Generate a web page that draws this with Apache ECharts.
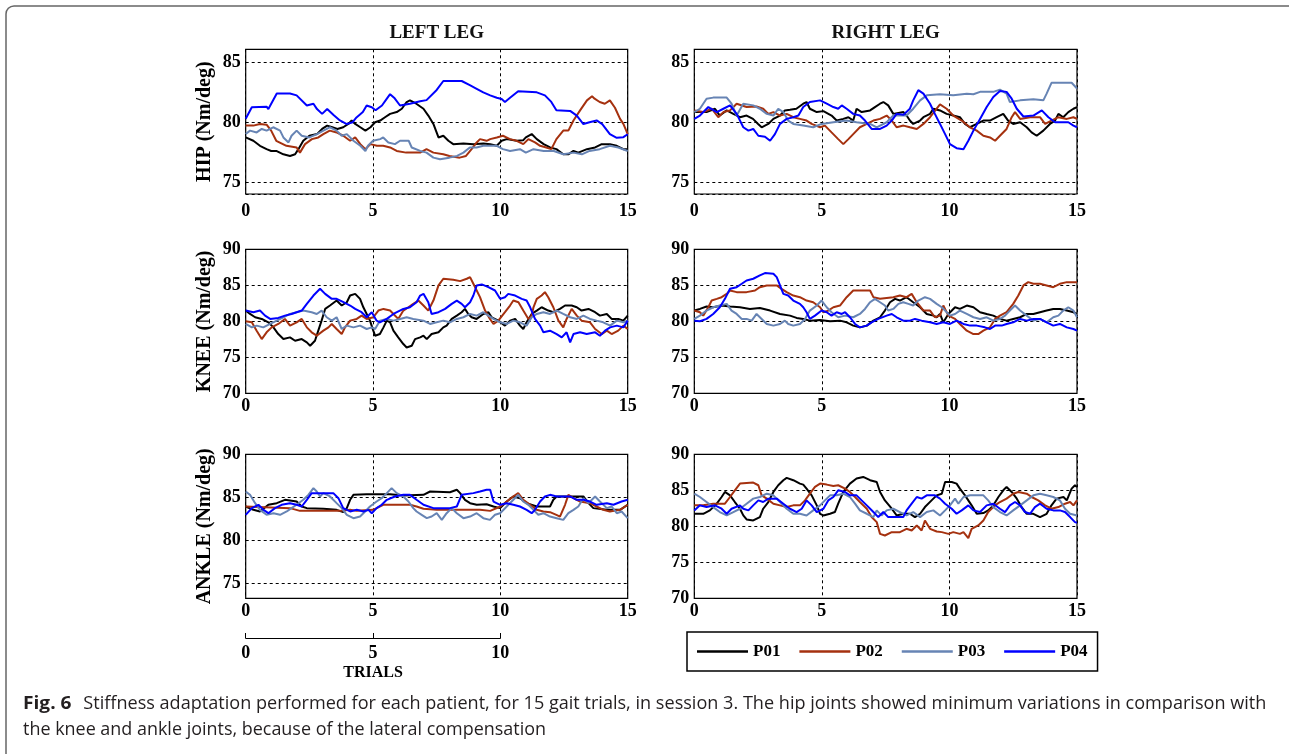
<!DOCTYPE html>
<html>
<head>
<meta charset="utf-8">
<script src="https://cdn.jsdelivr.net/npm/echarts@6/dist/echarts.min.js"></script>
<style>
html,body{margin:0;padding:0;background:#fff;}
#chart{width:1289px;height:754px;}
</style>
</head>
<body>
<div id="chart"></div>
<script>
// ---- series names / tick labels ----
const patients = ['P01', 'P02', 'P03', 'P04'];
const panelTitles = ['LEFT LEG', 'RIGHT LEG'];
const jointNames = ['HIP (Nm/deg)', 'KNEE (Nm/deg)', 'ANKLE (Nm/deg)'];
const trialTicks = [0, 5, 10, 15];
const captionBold = 'Fig. 6';
const captionLine1 = 'Stiffness adaptation performed for each patient, for 15 gait trials, in session 3. The hip joints showed minimum variations in comparison with';
const captionLine2 = 'the knee and ankle joints, because of the lateral compensation';

// ---- HIP, left leg ----
const hipL_P01 = [[0,78.73],[0.3,78.45],[0.56,78.03],[0.82,77.75],[1.0,77.6],[1.2,77.6],[1.48,77.32],[1.74,77.18],[1.94,77.32],[2.07,77.75],[2.26,78.45],[2.5,78.87],[2.8,79.01],[3.0,79.44],[3.2,79.72],[3.4,79.58],[3.6,79.44],[3.83,79.58],[4.03,79.86],[4.16,80.14],[4.3,79.86],[4.5,79.58],[4.7,79.3],[4.9,79.58],[5.08,80.0],[5.28,80.14],[5.47,80.42],[5.67,80.7],[5.93,80.85],[6.13,81.13],[6.32,81.69],[6.45,81.83],[6.7,81.55],[6.98,81.13],[7.17,80.56],[7.37,79.86],[7.57,78.73],[7.76,78.87],[7.96,78.45],[8.15,78.17],[8.55,78.23],[8.94,78.17],[9.33,78.23],[9.6,78.17],[9.86,78.03],[10.05,78.45],[10.25,78.59],[10.64,78.45],[10.9,78.5],[11.0,78.73],[11.23,79.01],[11.43,78.59],[11.7,78.17],[11.95,77.89],[12.2,77.75],[12.47,77.32],[12.67,77.32],[12.87,77.6],[13.06,77.46],[13.4,77.75],[13.72,77.89],[13.98,78.17],[14.3,78.17],[14.57,78.03],[14.83,77.75],[15,77.75]];
const hipL_P02 = [[0,79.72],[0.3,79.72],[0.56,79.86],[0.82,79.8],[1.0,79.3],[1.2,78.45],[1.6,78.03],[2.0,77.89],[2.13,77.46],[2.2,77.32],[2.33,78.17],[2.6,78.59],[2.85,78.73],[3.05,79.01],[3.3,79.3],[3.57,79.15],[3.83,78.87],[4.1,78.45],[4.3,78.73],[4.5,78.17],[4.7,77.75],[4.9,78.17],[5.15,78.03],[5.4,78.03],[5.67,77.89],[5.93,77.6],[6.3,77.46],[6.85,77.46],[7.1,77.75],[7.37,77.46],[7.76,77.32],[8.0,77.18],[8.4,77.04],[8.65,77.18],[8.87,77.75],[9.07,78.31],[9.2,78.59],[9.46,78.45],[9.6,78.59],[9.86,78.73],[10.1,78.87],[10.38,78.59],[10.64,78.45],[10.9,78.17],[11.1,78.59],[11.36,78.31],[11.56,78.03],[11.8,77.89],[12.0,77.75],[12.2,78.59],[12.47,79.3],[12.67,79.3],[12.87,80.14],[13.13,80.99],[13.4,81.83],[13.6,82.17],[13.7,81.97],[13.9,81.69],[14.1,81.55],[14.3,81.83],[14.5,81.21],[14.7,80.28],[14.83,79.86],[15,79.01]];
const hipL_P03 = [[0,79.01],[0.17,79.3],[0.43,79.15],[0.63,79.44],[0.82,79.3],[1.08,79.58],[1.35,79.3],[1.48,78.73],[1.68,78.31],[1.8,78.87],[2.0,79.3],[2.2,78.87],[2.5,78.73],[2.8,79.01],[3.05,79.3],[3.3,79.58],[3.57,79.3],[3.77,78.87],[3.97,79.01],[4.23,78.45],[4.5,78.03],[4.7,77.6],[4.8,78.03],[5.0,78.45],[5.28,78.59],[5.4,78.73],[5.6,78.31],[5.86,78.17],[6.06,78.45],[6.4,78.45],[6.52,77.89],[6.85,77.6],[7.1,77.46],[7.37,77.04],[7.63,76.9],[8.0,77.04],[8.3,77.18],[8.55,77.46],[8.8,77.89],[9.07,77.89],[9.33,78.03],[9.86,78.03],[10.1,77.75],[10.38,77.6],[10.77,77.75],[11.0,77.46],[11.3,77.75],[11.7,77.6],[12.1,77.6],[12.47,77.32],[12.87,77.46],[13.2,77.32],[13.5,77.6],[13.9,77.75],[14.3,78.03],[14.63,77.89],[15,77.6]];
const hipL_P04 = [[0,80.3],[0.24,81.25],[0.82,81.3],[0.89,81.1],[1.22,82.4],[1.74,82.4],[2.0,82.25],[2.4,81.4],[2.66,81.55],[2.8,81.1],[3.0,80.7],[3.2,81.1],[3.45,80.6],[3.7,80.15],[3.97,79.85],[4.2,80.0],[4.35,80.4],[4.6,80.85],[4.75,81.4],[4.95,81.25],[5.1,81.0],[5.35,81.4],[5.55,82.0],[5.67,82.35],[5.85,82.0],[6.06,81.4],[6.45,81.55],[6.85,81.75],[7.1,81.85],[7.5,82.7],[7.76,83.45],[8.48,83.45],[8.8,83.1],[9.07,82.8],[9.33,82.5],[9.6,82.25],[9.86,82.05],[10.05,81.95],[10.18,81.7],[10.38,82.05],[10.7,82.6],[11.43,82.5],[11.75,82.25],[12.0,81.7],[12.2,81.0],[12.74,80.95],[13.0,80.55],[13.26,79.85],[13.5,80.0],[13.78,80.15],[14.0,79.85],[14.3,79.0],[14.57,78.7],[14.83,78.75],[15,79.0]];

// ---- HIP, right leg ----
const hipR_P01 = [[0,80.85],[0.48,80.85],[0.81,81.13],[1.0,80.56],[1.27,80.99],[1.53,80.7],[1.79,80.42],[2.05,80.56],[2.3,80.28],[2.5,79.86],[2.64,79.58],[2.9,79.86],[3.1,80.28],[3.36,80.56],[3.55,80.99],[3.75,81.04],[4.0,81.13],[4.27,81.55],[4.4,81.69],[4.53,81.13],[4.8,80.85],[5.06,80.93],[5.38,80.56],[5.58,80.14],[5.84,80.28],[6.04,80.42],[6.23,80.14],[6.36,81.13],[6.56,80.85],[6.89,80.99],[7.08,81.27],[7.28,81.55],[7.41,81.69],[7.6,81.41],[7.8,80.7],[8.2,80.85],[8.32,80.56],[8.45,80.14],[8.58,79.86],[8.85,80.14],[8.98,80.42],[9.24,80.7],[9.37,81.13],[9.63,80.99],[9.89,80.7],[10.15,80.56],[10.41,80.42],[10.61,79.86],[10.8,79.58],[11.07,79.86],[11.33,80.14],[11.59,80.14],[11.85,80.42],[12.11,80.7],[12.3,80.14],[12.5,79.86],[12.77,80.0],[13.03,79.58],[13.22,79.15],[13.42,78.87],[13.68,79.3],[13.94,79.86],[14.14,80.14],[14.27,80.7],[14.46,80.42],[14.66,80.85],[14.86,81.13],[15,81.27]];
const hipR_P02 = [[0,80.99],[0.35,80.85],[0.68,81.13],[0.94,80.42],[1.14,80.85],[1.4,80.99],[1.66,81.55],[2.05,81.27],[2.44,81.32],[2.7,81.13],[2.9,80.7],[3.1,80.85],[3.36,80.56],[3.62,80.7],[3.88,80.42],[4.14,80.28],[4.4,80.14],[4.6,79.86],[4.93,79.58],[5.12,79.72],[5.38,79.15],[5.64,78.59],[5.84,78.17],[6.04,78.59],[6.23,79.01],[6.49,79.58],[6.76,79.86],[7.02,80.14],[7.28,80.28],[7.54,80.56],[7.74,80.14],[7.93,79.58],[8.2,79.72],[8.45,79.58],[8.72,79.44],[8.98,79.86],[9.24,80.42],[9.5,81.13],[9.63,81.49],[9.89,81.13],[10.15,80.56],[10.48,80.14],[10.8,79.58],[11.07,79.3],[11.33,78.87],[11.59,78.73],[11.79,78.45],[11.98,78.87],[12.24,79.44],[12.44,80.42],[12.57,80.85],[12.77,80.28],[13.16,80.42],[13.55,80.42],[13.75,79.86],[14.0,80.14],[14.27,80.42],[14.6,80.28],[14.86,80.42],[15,80.28]];
const hipR_P03 = [[0,80.85],[0.22,81.13],[0.48,81.97],[0.74,82.06],[1.27,82.06],[1.46,81.55],[1.66,80.56],[1.92,81.55],[2.31,81.41],[2.57,81.13],[2.84,80.7],[3.1,80.56],[3.29,81.13],[3.49,80.85],[3.68,80.14],[3.88,79.86],[4.27,79.72],[4.66,79.58],[4.99,79.86],[5.45,80.0],[5.97,80.14],[6.36,80.0],[6.89,79.86],[7.15,79.58],[7.54,80.0],[7.8,80.56],[8.32,80.56],[8.58,81.13],[8.85,81.83],[9.11,82.25],[9.63,82.34],[10.15,82.25],[10.68,82.39],[10.94,82.34],[11.2,82.54],[11.72,82.54],[11.98,82.73],[12.24,82.39],[12.37,81.69],[12.77,81.83],[13.29,81.92],[13.68,81.83],[13.81,82.39],[14.0,83.3],[14.79,83.3],[15,82.82]];
const hipR_P04 = [[0,80.28],[0.22,80.56],[0.55,81.27],[0.88,80.85],[1.14,81.13],[1.4,81.41],[1.66,80.7],[1.92,79.58],[2.12,79.3],[2.31,79.44],[2.51,78.87],[2.77,78.79],[2.97,78.45],[3.16,79.01],[3.36,79.86],[3.62,80.28],[3.88,80.42],[4.08,80.56],[4.27,81.27],[4.53,81.69],[4.93,81.83],[5.19,81.55],[5.45,81.27],[5.64,81.13],[5.78,81.41],[5.97,81.13],[6.23,80.7],[6.49,80.56],[6.69,80.14],[6.95,79.44],[7.28,79.44],[7.54,79.72],[7.74,80.14],[7.93,80.7],[8.2,80.62],[8.45,81.13],[8.58,81.83],[8.78,82.68],[8.98,82.39],[9.24,81.55],[9.43,80.7],[9.63,79.86],[9.83,79.01],[10.02,78.17],[10.28,77.83],[10.55,77.75],[10.74,78.45],[10.94,79.3],[11.2,80.28],[11.46,81.27],[11.72,82.11],[11.98,82.62],[12.24,82.54],[12.44,81.97],[12.64,81.13],[12.9,80.48],[13.29,80.56],[13.62,80.99],[13.88,80.42],[14.14,80.0],[14.66,80.0],[14.86,79.72],[15,79.58]];

// ---- KNEE, left leg ----
const kneeL_P01 = [[0,81.49],[0.17,81.02],[0.37,80.56],[0.63,80.33],[0.89,79.86],[1.09,79.16],[1.28,78.23],[1.48,77.53],[1.74,77.77],[1.94,77.3],[2.2,77.53],[2.4,77.07],[2.53,76.6],[2.72,77.3],[2.85,78.7],[2.98,80.09],[3.12,81.72],[3.31,82.19],[3.57,82.88],[3.77,82.19],[3.97,82.65],[4.1,83.58],[4.3,83.81],[4.49,83.12],[4.62,81.95],[4.75,81.02],[4.88,80.09],[5.01,78.7],[5.08,78.0],[5.27,78.23],[5.41,79.16],[5.54,80.09],[5.67,79.86],[5.8,78.7],[5.99,77.77],[6.19,76.84],[6.32,76.37],[6.52,76.6],[6.65,77.53],[6.85,77.77],[6.98,78.0],[7.11,77.53],[7.3,78.23],[7.57,78.47],[7.76,79.16],[7.89,79.4],[8.09,80.33],[8.29,80.79],[8.48,81.26],[8.61,81.72],[8.74,81.02],[8.87,80.56],[9.07,80.33],[9.33,81.02],[9.53,81.26],[9.66,80.56],[9.92,80.09],[10.18,79.4],[10.38,80.09],[10.58,80.33],[10.77,79.4],[10.9,78.93],[11.03,79.86],[11.23,81.02],[11.43,81.49],[11.62,81.95],[11.88,81.49],[12.08,81.26],[12.34,81.72],[12.54,82.19],[12.8,82.19],[13.0,81.95],[13.19,81.49],[13.46,81.72],[13.72,81.26],[13.91,80.79],[14.18,81.02],[14.37,80.33],[14.63,80.33],[14.83,80.09],[15,80.79]];
const kneeL_P02 = [[0,80.0],[0.24,79.86],[0.43,78.7],[0.63,77.53],[0.82,78.47],[1.02,79.16],[1.28,79.63],[1.54,80.33],[1.74,79.4],[2.0,79.86],[2.2,80.33],[2.4,79.16],[2.59,78.47],[2.79,78.0],[3.05,78.7],[3.25,79.16],[3.38,79.63],[3.57,78.93],[3.77,78.23],[3.9,79.16],[4.1,80.09],[4.36,80.33],[4.55,80.79],[4.75,80.33],[5.01,80.56],[5.21,81.49],[5.41,81.72],[5.67,81.49],[5.8,81.02],[5.99,80.33],[6.19,81.49],[6.39,81.95],[6.58,82.42],[6.78,82.88],[6.98,82.19],[7.17,81.49],[7.37,82.88],[7.57,84.98],[7.76,85.91],[8.15,85.77],[8.42,85.58],[8.68,85.91],[8.81,86.14],[8.94,85.21],[9.2,83.35],[9.4,81.49],[9.59,80.33],[9.73,79.63],[9.92,80.09],[10.18,81.26],[10.38,82.19],[10.51,82.88],[10.71,82.65],[10.9,81.49],[11.1,80.33],[11.23,80.79],[11.3,81.95],[11.43,83.12],[11.62,83.58],[11.75,84.05],[11.88,83.35],[12.08,81.95],[12.28,80.09],[12.47,79.16],[12.6,80.33],[12.8,81.72],[13.0,80.79],[13.19,80.09],[13.52,79.86],[13.72,78.93],[13.98,78.23],[14.18,78.7],[14.37,78.23],[14.63,78.7],[14.83,79.4],[15,78.93]];
const kneeL_P03 = [[0,79.63],[0.24,79.16],[0.43,79.4],[0.69,79.16],[0.96,79.63],[1.22,80.09],[1.48,80.56],[1.74,81.02],[2.0,81.26],[2.26,81.49],[2.59,81.26],[2.79,81.02],[2.98,81.49],[3.18,80.56],[3.38,80.09],[3.57,80.56],[3.77,78.93],[3.97,79.4],[4.23,79.16],[4.49,79.4],[4.75,78.93],[4.95,79.16],[5.08,78.93],[5.27,80.09],[5.54,80.33],[5.8,80.09],[6.06,80.33],[6.32,80.56],[6.58,80.33],[6.98,80.09],[7.24,79.63],[7.5,79.86],[7.76,80.09],[8.02,79.86],[8.29,80.33],[8.55,80.56],[8.81,81.02],[9.07,80.79],[9.33,81.26],[9.53,80.79],[9.73,80.33],[9.99,79.86],[10.25,79.63],[10.51,80.09],[10.77,79.86],[11.03,79.4],[11.23,80.56],[11.43,81.02],[11.69,81.26],[11.95,81.02],[12.21,81.49],[12.47,81.02],[12.74,80.56],[13.0,80.33],[13.26,80.79],[13.52,80.33],[13.78,80.09],[14.04,79.86],[14.31,79.4],[14.57,80.09],[14.83,79.86],[15,80.09]];
const kneeL_P04 = [[0,81.49],[0.3,81.26],[0.56,81.49],[0.76,80.79],[0.96,80.33],[1.28,80.47],[1.54,80.79],[1.8,81.02],[2.0,81.26],[2.2,81.49],[2.4,82.42],[2.66,83.58],[2.92,84.51],[3.12,83.81],[3.38,83.12],[3.57,83.12],[3.84,82.65],[4.1,82.19],[4.3,81.72],[4.55,81.26],[4.75,80.56],[4.95,81.26],[5.14,80.09],[5.27,79.86],[5.54,80.33],[5.8,81.02],[6.19,81.72],[6.45,81.95],[6.71,82.65],[6.85,83.58],[6.98,83.81],[7.17,82.65],[7.3,81.02],[7.57,81.26],[7.83,81.72],[8.09,82.42],[8.29,82.88],[8.48,82.42],[8.61,81.95],[8.81,82.65],[8.94,83.58],[9.07,84.98],[9.27,85.12],[9.53,84.74],[9.79,84.28],[9.99,83.12],[10.18,83.35],[10.31,83.81],[10.58,83.58],[10.84,83.12],[11.03,82.88],[11.17,81.95],[11.36,80.33],[11.56,79.4],[11.69,78.47],[11.95,78.7],[12.21,78.23],[12.41,77.77],[12.6,78.47],[12.74,77.07],[12.87,78.23],[13.13,78.47],[13.39,78.23],[13.72,78.47],[13.91,78.0],[14.11,78.7],[14.31,79.16],[14.57,79.4],[14.83,79.16],[15,80.09]];

// ---- KNEE, right leg ----
const kneeR_P01 = [[0,81.49],[0.22,81.72],[0.48,82.05],[0.74,81.95],[1.07,82.19],[1.4,82.05],[1.79,81.95],[2.18,81.72],[2.57,81.86],[2.97,81.49],[3.36,81.02],[3.75,80.79],[4.01,80.47],[4.27,80.33],[4.53,80.09],[4.93,80.19],[5.32,80.0],[5.71,80.09],[5.97,79.86],[6.23,79.4],[6.49,79.16],[6.76,79.4],[7.02,80.09],[7.28,80.56],[7.47,81.49],[7.67,82.65],[7.87,83.12],[8.06,82.88],[8.32,83.35],[8.58,82.65],[8.85,81.95],[9.11,81.02],[9.37,80.79],[9.5,80.56],[9.63,81.02],[9.76,79.86],[9.96,81.02],[10.22,81.95],[10.41,81.72],[10.68,82.19],[10.94,81.95],[11.2,81.26],[11.46,81.02],[11.72,80.79],[11.98,80.33],[12.24,80.09],[12.5,80.33],[12.77,80.56],[13.03,81.02],[13.29,81.02],[13.55,81.26],[13.81,81.49],[14.07,81.72],[14.33,81.72],[14.6,81.49],[14.86,81.26],[15,81.02]];
const kneeR_P02 = [[0,81.49],[0.22,81.26],[0.35,80.79],[0.55,81.95],[0.68,82.88],[0.88,83.12],[1.07,83.35],[1.27,83.81],[1.4,84.28],[1.66,84.05],[2.05,84.05],[2.38,84.28],[2.57,84.74],[2.84,84.98],[3.23,84.98],[3.42,84.51],[3.62,84.05],[3.88,83.58],[4.14,83.35],[4.4,82.88],[4.66,82.65],[4.93,81.95],[5.06,81.26],[5.25,81.49],[5.45,81.95],[5.71,82.19],[5.97,83.35],[6.23,84.28],[6.89,84.28],[7.02,83.35],[7.28,83.12],[7.8,83.35],[8.06,83.58],[8.32,83.35],[8.52,83.81],[8.72,82.65],[8.98,81.49],[9.24,81.49],[9.43,80.56],[9.63,80.79],[9.76,82.19],[9.96,80.79],[10.22,80.33],[10.41,79.63],[10.68,78.7],[10.94,78.23],[11.13,78.23],[11.33,78.7],[11.59,79.16],[11.79,80.33],[11.98,80.79],[12.24,81.26],[12.5,82.42],[12.7,83.58],[12.9,84.98],[13.09,85.44],[13.29,85.21],[13.55,85.21],[13.81,84.98],[14.07,84.74],[14.33,85.21],[14.6,85.44],[15,85.44]];
const kneeR_P03 = [[0,80.33],[0.22,80.79],[0.48,81.49],[0.74,81.95],[1.0,82.19],[1.27,82.42],[1.46,81.49],[1.66,81.02],[1.86,80.33],[2.05,80.33],[2.25,80.09],[2.44,81.02],[2.64,80.33],[2.84,79.63],[3.1,79.4],[3.36,79.63],[3.55,80.09],[3.68,79.63],[3.88,79.4],[4.14,79.63],[4.34,80.33],[4.53,81.49],[4.8,82.19],[4.99,82.88],[5.19,81.95],[5.38,81.26],[5.64,80.56],[5.91,80.79],[6.23,80.56],[6.49,81.02],[6.69,81.72],[6.89,82.65],[7.08,83.12],[7.28,82.65],[7.47,82.19],[7.6,81.49],[7.8,81.72],[8.0,82.42],[8.19,82.65],[8.39,82.42],[8.58,82.19],[8.78,82.88],[9.04,83.35],[9.24,83.12],[9.5,82.42],[9.7,81.95],[9.83,81.49],[10.02,80.79],[10.22,81.02],[10.41,81.49],[10.68,81.02],[10.94,80.56],[11.2,80.33],[11.46,80.56],[11.72,80.09],[11.98,80.33],[12.18,80.79],[12.37,81.49],[12.57,82.19],[12.77,81.49],[13.03,80.79],[13.29,80.09],[13.55,80.33],[13.81,79.86],[14.07,80.56],[14.27,80.79],[14.46,81.49],[14.66,81.95],[14.86,81.49],[15,80.56]];
const kneeR_P04 = [[0,80.09],[0.22,80.0],[0.48,80.33],[0.74,81.02],[1.0,81.95],[1.2,83.12],[1.4,84.51],[1.66,84.74],[1.86,85.21],[2.05,85.67],[2.31,85.91],[2.57,86.37],[2.77,86.7],[3.1,86.6],[3.23,86.14],[3.36,84.98],[3.49,83.81],[3.68,83.58],[3.88,82.88],[4.14,82.42],[4.27,81.95],[4.4,81.26],[4.53,80.33],[4.73,80.79],[4.99,81.49],[5.19,81.26],[5.38,80.79],[5.58,81.26],[5.78,81.02],[5.91,81.26],[6.1,80.56],[6.3,79.63],[6.49,79.16],[6.76,79.4],[6.95,79.86],[7.21,80.33],[7.54,80.79],[7.74,81.02],[7.93,80.56],[8.19,80.09],[8.45,80.09],[8.65,80.33],[8.91,80.09],[9.24,79.86],[9.5,79.63],[9.76,79.86],[10.02,79.63],[10.28,80.09],[10.55,79.63],[10.81,79.4],[11.07,79.4],[11.39,79.16],[11.59,78.93],[11.79,79.4],[12.05,79.4],[12.24,79.63],[12.5,79.86],[12.77,80.33],[13.03,80.09],[13.29,80.33],[13.55,80.33],[13.81,79.86],[14.07,79.4],[14.33,79.63],[14.6,79.16],[14.86,78.93],[15,78.7]];

// ---- ANKLE, left leg ----
const ankleL_P01 = [[0,83.91],[0.3,83.52],[0.56,83.33],[0.89,84.11],[1.22,84.3],[1.54,84.69],[2.0,84.49],[2.2,83.91],[2.4,83.72],[3.05,83.64],[3.57,83.52],[3.83,83.25],[3.97,83.72],[4.1,84.69],[4.23,85.27],[4.75,85.35],[5.67,85.35],[6.19,85.19],[6.98,85.27],[7.24,85.66],[8.02,85.58],[8.29,85.86],[8.42,85.47],[8.61,84.69],[8.81,84.3],[9.07,84.11],[9.46,84.18],[9.73,83.91],[9.99,83.72],[10.25,84.49],[10.51,85.08],[10.77,84.88],[11.03,84.3],[11.43,83.91],[11.95,83.91],[12.08,84.69],[12.21,85.08],[13.26,85.08],[13.46,84.3],[13.65,83.72],[14.18,83.52],[14.7,83.52],[15,84.11]];
const ankleL_P02 = [[0,83.91],[1.74,83.72],[2.13,83.4],[3.7,83.4],[4.1,83.52],[4.36,83.4],[5.0,83.52],[5.14,83.72],[5.4,84.11],[6.45,84.11],[6.71,83.91],[6.98,83.64],[7.5,83.52],[9.2,83.52],[9.6,83.4],[10.0,83.91],[10.25,84.49],[10.5,85.08],[10.7,85.47],[10.9,84.69],[11.17,84.11],[11.43,83.52],[11.69,83.33],[11.95,83.25],[12.2,82.94],[12.34,82.74],[12.54,84.11],[12.67,85.27],[12.87,84.88],[13.13,84.49],[13.52,84.3],[13.78,83.91],[14.04,83.52],[14.3,83.33],[14.7,83.52],[15,84.11]];
const ankleL_P03 = [[0,85.66],[0.17,85.27],[0.37,84.3],[0.56,83.52],[0.82,82.94],[1.09,83.13],[1.35,82.94],[1.61,83.33],[1.8,83.72],[2.0,84.11],[2.26,84.69],[2.46,85.27],[2.66,86.05],[2.79,85.66],[2.92,85.08],[3.05,85.47],[3.31,85.08],[3.57,84.3],[3.77,83.72],[3.97,82.94],[4.23,82.55],[4.49,82.74],[4.69,83.33],[4.88,83.91],[5.14,84.49],[5.34,84.88],[5.54,85.47],[5.73,86.05],[5.93,85.47],[6.19,85.08],[6.39,84.49],[6.58,83.72],[6.71,83.33],[6.91,82.94],[7.11,82.55],[7.3,82.74],[7.5,83.13],[7.7,82.35],[7.89,83.13],[8.09,83.72],[8.29,83.13],[8.55,82.55],[8.81,82.74],[9.07,83.13],[9.33,82.55],[9.59,82.35],[9.79,82.94],[9.99,83.13],[10.25,83.91],[10.51,84.69],[10.7,85.27],[10.9,84.49],[11.1,84.11],[11.3,83.52],[11.49,82.94],[11.69,83.13],[11.95,82.74],[12.21,82.55],[12.47,82.35],[12.67,83.13],[12.87,83.52],[13.06,83.91],[13.26,84.88],[13.46,84.3],[13.72,85.08],[13.91,84.49],[14.18,83.72],[14.37,83.91],[14.57,83.13],[14.76,83.33],[15,82.55]];
const ankleL_P04 = [[0,82.94],[0.24,83.72],[0.5,84.11],[0.7,83.52],[0.89,83.13],[1.15,83.72],[1.41,84.11],[1.74,84.3],[2.0,84.11],[2.2,83.91],[2.4,84.69],[2.59,85.47],[3.44,85.47],[3.64,84.88],[3.83,83.72],[4.1,83.33],[4.36,83.52],[4.62,83.33],[4.82,83.52],[4.95,83.13],[5.14,83.72],[5.34,84.11],[5.54,84.69],[5.86,85.08],[6.19,85.27],[6.45,85.27],[6.71,84.69],[6.98,84.11],[7.37,83.72],[8.02,83.72],[8.29,83.91],[8.48,85.27],[8.94,85.47],[9.2,85.66],[9.46,85.86],[9.6,85.86],[9.73,84.49],[9.99,84.11],[10.25,84.3],[10.51,84.11],[10.77,83.91],[11.03,83.52],[11.23,83.13],[11.36,83.52],[11.56,84.49],[11.75,85.08],[11.95,85.27],[12.21,85.08],[12.74,85.08],[13.0,84.69],[13.26,84.69],[13.52,84.49],[13.78,84.11],[14.18,84.3],[14.44,84.11],[14.76,84.49],[15,84.69]];

// ---- ANKLE, right leg ----
const ankleR_P01 = [[0,81.74],[0.35,81.74],[0.61,82.21],[0.88,83.14],[1.07,84.07],[1.2,84.77],[1.4,84.3],[1.59,83.37],[1.79,82.44],[1.92,81.51],[2.05,80.95],[2.31,80.81],[2.57,81.28],[2.7,82.44],[2.9,83.37],[3.1,84.77],[3.29,85.7],[3.49,86.4],[3.62,86.72],[3.88,86.4],[4.14,85.93],[4.27,85.79],[4.4,85.23],[4.6,84.3],[4.8,82.91],[4.93,81.74],[5.06,81.51],[5.32,81.74],[5.51,81.98],[5.64,83.14],[5.84,84.77],[6.1,85.93],[6.36,86.63],[6.62,86.86],[6.89,86.4],[7.15,86.16],[7.28,84.77],[7.47,83.6],[7.74,82.44],[7.93,81.51],[8.19,81.74],[8.45,81.74],[8.65,81.28],[8.85,81.74],[9.04,82.67],[9.3,83.6],[9.5,84.3],[9.7,84.53],[9.83,86.16],[10.09,86.16],[10.28,85.93],[10.41,85.23],[10.61,84.3],[10.87,82.91],[11.07,81.74],[11.33,81.84],[11.52,82.21],[11.72,82.91],[11.92,84.07],[12.11,85.0],[12.24,85.47],[12.44,84.77],[12.64,83.84],[12.83,82.67],[13.03,81.74],[13.29,81.74],[13.55,81.28],[13.81,81.74],[14.0,82.91],[14.2,83.84],[14.47,84.07],[14.6,83.6],[14.79,85.23],[14.92,85.7],[15,85.47]];
const ankleR_P02 = [[0,82.91],[0.35,82.91],[0.74,83.14],[1.2,83.14],[1.4,84.07],[1.59,85.0],[1.79,85.93],[2.31,86.07],[2.51,85.7],[2.64,84.3],[2.84,83.84],[3.1,83.14],[3.36,82.91],[3.62,82.67],[3.88,82.91],[4.14,82.91],[4.34,83.6],[4.53,84.53],[4.73,85.47],[4.93,85.93],[5.19,85.79],[5.45,85.6],[5.64,85.7],[5.91,85.23],[6.1,84.77],[6.3,84.07],[6.49,83.37],[6.76,82.44],[6.95,81.28],[7.15,80.58],[7.28,78.95],[7.47,78.72],[7.74,79.19],[8.06,79.19],[8.32,79.65],[8.52,79.42],[8.72,80.12],[8.91,79.42],[9.04,80.81],[9.24,79.65],[9.5,79.28],[9.7,79.19],[9.96,78.95],[10.15,79.19],[10.41,78.95],[10.55,79.19],[10.74,78.35],[10.87,79.65],[11.13,80.12],[11.33,80.81],[11.52,81.98],[11.79,82.91],[11.98,83.37],[12.24,83.84],[12.5,84.53],[12.7,84.77],[13.03,84.53],[13.22,84.07],[13.48,83.6],[13.75,82.91],[14.0,82.44],[14.27,82.67],[14.53,83.14],[14.73,83.37],[14.86,82.91],[15,83.6]];
const ankleR_P03 = [[0,84.53],[0.22,84.07],[0.48,83.37],[0.74,82.67],[1.0,81.98],[1.27,81.51],[1.53,81.98],[1.79,82.44],[2.05,83.14],[2.31,83.84],[2.57,84.07],[2.84,84.53],[3.1,84.3],[3.36,83.37],[3.62,82.44],[3.88,81.74],[4.14,81.74],[4.4,81.51],[4.66,82.21],[4.93,82.91],[5.12,83.6],[5.32,84.3],[5.58,84.3],[5.84,84.53],[6.1,84.07],[6.3,83.14],[6.49,82.21],[6.76,81.74],[7.02,81.28],[7.15,82.21],[7.34,81.51],[7.54,82.21],[7.8,82.44],[8.06,81.98],[8.32,81.51],[8.58,81.98],[8.85,81.28],[9.11,81.98],[9.37,82.21],[9.63,81.51],[9.83,82.21],[10.02,82.91],[10.22,83.84],[10.35,83.14],[10.55,84.07],[10.81,84.3],[11.33,84.3],[11.52,83.6],[11.72,82.67],[11.98,81.98],[12.24,81.51],[12.5,82.21],[12.77,82.91],[13.03,83.6],[13.29,84.3],[13.55,84.53],[13.81,84.3],[14.07,84.07],[14.33,83.6],[14.53,82.44],[14.73,81.74],[15,81.51]];
const ankleR_P04 = [[0,82.21],[0.22,82.91],[0.48,82.67],[0.81,82.91],[1.07,82.44],[1.27,81.74],[1.46,82.44],[1.79,82.91],[1.92,82.44],[2.12,82.21],[2.31,82.91],[2.51,83.6],[2.7,83.37],[2.9,83.84],[3.23,83.84],[3.49,83.14],[3.75,82.44],[4.01,81.98],[4.21,82.44],[4.4,83.6],[4.6,82.91],[4.8,81.98],[5.06,82.44],[5.25,83.6],[5.45,84.07],[5.64,85.0],[5.91,84.77],[6.1,84.3],[6.36,84.3],[6.56,83.6],[6.76,82.91],[7.02,81.98],[7.21,81.28],[7.41,81.98],[7.6,81.28],[8.19,81.28],[8.32,82.21],[8.52,83.14],[8.72,84.07],[8.91,83.84],[9.11,84.3],[9.43,84.3],[9.63,83.84],[9.83,83.14],[10.09,82.44],[10.28,81.74],[10.48,82.21],[10.74,82.91],[10.94,82.21],[11.2,81.98],[11.46,82.91],[11.72,83.14],[11.98,82.44],[12.18,81.98],[12.37,82.91],[12.57,83.37],[12.77,82.91],[12.96,81.98],[13.16,81.74],[13.35,82.67],[13.55,83.14],[13.81,82.44],[14.07,82.21],[14.33,82.21],[14.53,81.98],[14.73,81.28],[14.92,80.58],[15,80.49]];

// ---- layout / styling (not data) ----
const SERIF = '"Liberation Serif", "Times New Roman", serif';
const colors = ['#000000', '#a5310f', '#6784b4', '#0000ff'];
const colLeft = [245.7, 694.3];
const colWidth = [382, 382.7];
const rowTop = [49.3, 249.3, 454.3];
const rowHeight = [144.7, 144, 144];
const xLabelMargin = [8, 4, 4];

const panels = [
  { row: 0, col: 0, data: [hipL_P01, hipL_P02, hipL_P03, hipL_P04], y: { min: 74, max: 86.1, splitNumber: 2, hideMin: true, hideMax: true } },
  { row: 0, col: 1, data: [hipR_P01, hipR_P02, hipR_P03, hipR_P04], y: { min: 74, max: 86.1, splitNumber: 2, hideMin: true, hideMax: true } },
  { row: 1, col: 0, data: [kneeL_P01, kneeL_P02, kneeL_P03, kneeL_P04], y: { min: 70, max: 90, interval: 5 } },
  { row: 1, col: 1, data: [kneeR_P01, kneeR_P02, kneeR_P03, kneeR_P04], y: { min: 70, max: 90, interval: 5 } },
  { row: 2, col: 0, data: [ankleL_P01, ankleL_P02, ankleL_P03, ankleL_P04], y: { min: 73.2, max: 90, splitNumber: 3, hideMin: true } },
  { row: 2, col: 1, data: [ankleR_P01, ankleR_P02, ankleR_P03, ankleR_P04], y: { min: 70, max: 90, interval: 5 } }
];

const labelStyle = { color: '#000', fontFamily: SERIF, fontWeight: 'bold', fontSize: 18 };
const dashed = { show: true, lineStyle: { color: '#000', type: [3, 3], width: 1 } };

const grids = [], xAxes = [], yAxes = [], series = [];
panels.forEach((p, i) => {
  grids.push({ left: colLeft[p.col], top: rowTop[p.row], width: colWidth[p.col], height: rowHeight[p.row],
    show: true, borderColor: '#000', borderWidth: 1.2, backgroundColor: '#fff', containLabel: false });
  xAxes.push({ type: 'value', gridIndex: i, min: trialTicks[0], max: trialTicks[trialTicks.length - 1], interval: 5,
    axisLine: { show: false }, axisTick: { show: false }, splitLine: dashed,
    axisLabel: Object.assign({ margin: xLabelMargin[p.row] }, labelStyle) });
  const y = { type: 'value', gridIndex: i, min: p.y.min, max: p.y.max,
    axisLine: { show: false }, axisTick: { show: false }, splitLine: dashed,
    axisLabel: Object.assign({ margin: 5, showMinLabel: !p.y.hideMin, showMaxLabel: !p.y.hideMax }, labelStyle) };
  if (p.y.interval) y.interval = p.y.interval; else y.splitNumber = p.y.splitNumber;
  if (p.col === 0) {
    y.name = jointNames[p.row];
    y.nameLocation = 'middle';
    y.nameGap = 31;
    y.nameTextStyle = { color: '#000', fontFamily: SERIF, fontWeight: 'bold', fontSize: 20 };
  }
  yAxes.push(y);
  p.data.forEach((d, k) => {
    series.push({ type: 'line', name: patients[k], xAxisIndex: i, yAxisIndex: i, data: d,
      symbol: 'none', showSymbol: false, clip: true, animation: false,
      lineStyle: { color: colors[k], width: 2 }, itemStyle: { color: colors[k] } });
  });
});

// extra short trials axis under left ankle plot
grids.push({ left: colLeft[0], top: 637, width: colWidth[0] * 10 / 15, height: 1, show: false });
xAxes.push({ type: 'value', gridIndex: 6, min: 0, max: 10, interval: 5,
  axisLine: { show: true, lineStyle: { color: '#000', width: 1 } },
  axisTick: { show: true, inside: true, length: 5, lineStyle: { color: '#000', width: 1 } },
  splitLine: { show: false },
  axisLabel: Object.assign({ margin: 6 }, labelStyle),
  name: 'TRIALS', nameLocation: 'middle', nameGap: 27,
  nameTextStyle: { color: '#000', fontFamily: SERIF, fontWeight: 'bold', fontSize: 16 } });
yAxes.push({ type: 'value', gridIndex: 6, min: 0, max: 1, show: false });

// caption fitting
const mctx = document.createElement('canvas').getContext('2d');
function fitScale(text, font, width) { mctx.font = font; return width / mctx.measureText(text).width; }
const fontBold = 'bold 18px "Open Sans"';
const fontReg = '18px "Open Sans"';

const graphics = [
  { type: 'rect', silent: true, z: -10, shape: { x: 6, y: 6, width: 1290, height: 800, r: 8 },
    style: { fill: 'none', stroke: '#666', lineWidth: 1.5 } },
  { type: 'text', x: colLeft[0] + colWidth[0] / 2, y: 33, style: { text: panelTitles[0], fill: '#111', font: 'bold 19px ' + SERIF, textAlign: 'center', textVerticalAlign: 'middle' } },
  { type: 'text', x: colLeft[1] + colWidth[1] / 2, y: 33, style: { text: panelTitles[1], fill: '#111', font: 'bold 19px ' + SERIF, textAlign: 'center', textVerticalAlign: 'middle' } },
  { type: 'text', x: 23, y: 704, scaleX: fitScale(captionBold, fontBold, 48.5), style: { text: captionBold, fill: '#231f20', font: fontBold, textAlign: 'left', textVerticalAlign: 'middle' } },
  { type: 'text', x: 83.3, y: 704, scaleX: fitScale(captionLine1, fontReg, 1183), style: { text: captionLine1, fill: '#231f20', font: fontReg, textAlign: 'left', textVerticalAlign: 'middle' } },
  { type: 'text', x: 23, y: 730, scaleX: fitScale(captionLine2, fontReg, 523), style: { text: captionLine2, fill: '#231f20', font: fontReg, textAlign: 'left', textVerticalAlign: 'middle' } }
];

const chart = echarts.init(document.getElementById('chart'), null, { renderer: 'canvas' });
chart.setOption({
  animation: false,
  backgroundColor: '#fff',
  grid: grids,
  xAxis: xAxes,
  yAxis: yAxes,
  series: series,
  legend: {
    data: patients.map(n => ({ name: n, icon: 'rect' })), left: 687, top: 632, orient: 'horizontal',
    padding: [11, 10, 11, 10], itemGap: 19, itemWidth: 51, itemHeight: 2.5,
    borderColor: '#000', borderWidth: 1.5, backgroundColor: '#fff',
    selectedMode: false,
    textStyle: { color: '#000', fontFamily: SERIF, fontWeight: 'bold', fontSize: 17 }
  },
  graphic: graphics
});
</script>
</body>
</html>
